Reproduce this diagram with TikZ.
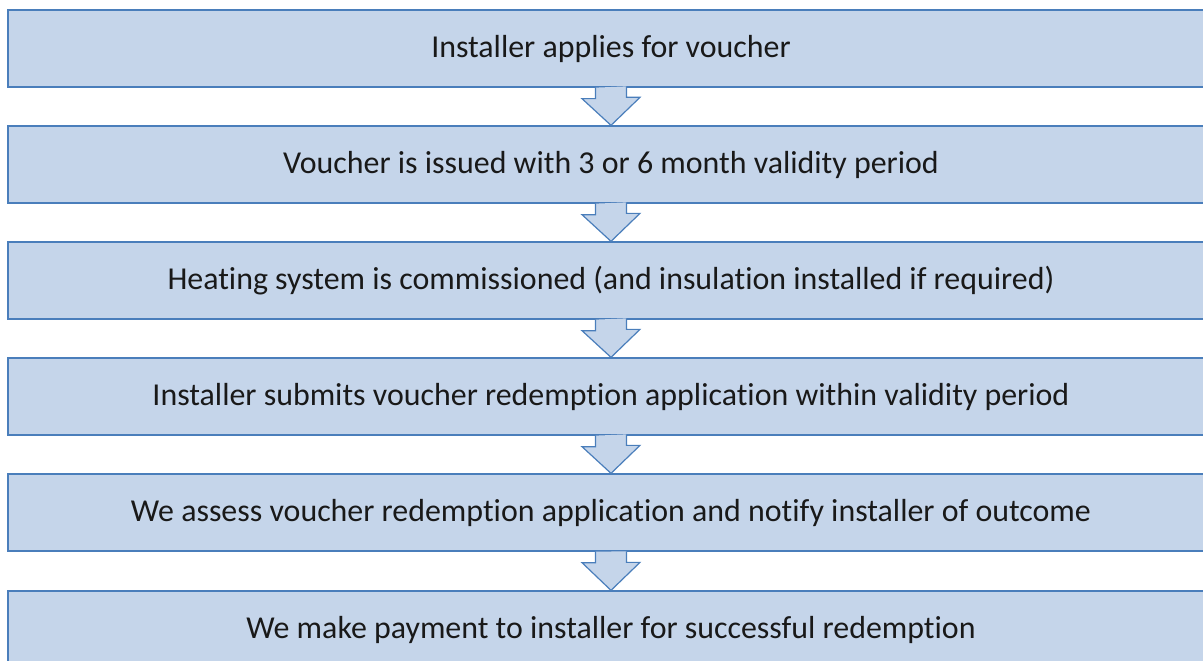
\documentclass[tikz,border=0pt]{standalone}
\usepackage{fontspec}
\setmainfont[RawFeature=-liga]{Carlito}
\usetikzlibrary{calc}
\definecolor{boxfill}{RGB}{197,213,234}
\definecolor{boxline}{RGB}{74,126,187}
\tikzset{
  box/.style={draw=boxline, fill=boxfill, line width=1.3pt, minimum width=1206pt, minimum height=77pt, inner sep=0pt, font=\fontsize{31.9}{36}\selectfont, text=black!90},
  arr/.style={draw=boxline, fill=boxfill, line width=1.2pt, line join=miter}
}
\newcommand{\flowarrow}[2]{%
  \fill[boxfill] ($(#1.south)+(-15.5,0)$) -- ++(0,11) -- ++(-13.5,0) -- (#2.north) -- ++(29,-28) -- ++(-13.5,0) -- ++(0,-11) -- cycle;
  \draw[arr, fill=none] ($(#1.south)+(-15.5,0)$) -- ++(0,11) -- ++(-13.5,0) -- (#2.north) -- ++(29,-28) -- ++(-13.5,0) -- ++(0,-11);
}
\begin{document}
\begin{tikzpicture}[x=1pt,y=-1pt]
\useasboundingbox (0,0) rectangle (1203,661);
\node[box] (b1) at (611,48.5) {Installer applies for voucher};
\node[box] (b2) at (611,164.5) {Voucher is issued with 3 or 6 month validity period};
\node[box] (b3) at (611,280.5) {Heating system is commissioned (and insulation installed if required)};
\node[box] (b4) at (611,396.5) {Installer submits voucher redemption application within validity period};
\node[box] (b5) at (611,512.5) {We assess voucher redemption application and notify installer of outcome};
\node[box] (b6) at (611,629.5) {We make payment to installer for successful redemption};
\flowarrow{b1}{b2}
\flowarrow{b2}{b3}
\flowarrow{b3}{b4}
\flowarrow{b4}{b5}
\flowarrow{b5}{b6}
\end{tikzpicture}
\end{document}
